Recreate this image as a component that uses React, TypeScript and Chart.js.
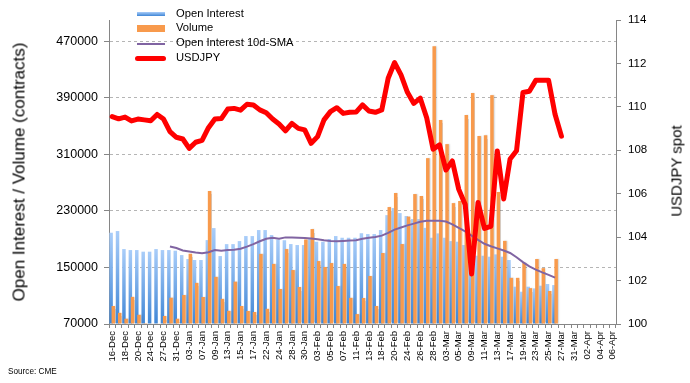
import React, { useEffect, useRef } from 'react';
import { Chart, registerables } from 'chart.js';

Chart.register(...registerables);

const DATES = [
  '16-Dec','17-Dec','18-Dec','19-Dec','20-Dec','23-Dec','24-Dec','26-Dec','27-Dec','30-Dec','31-Dec',
  '02-Jan','03-Jan','06-Jan','07-Jan','08-Jan','09-Jan','10-Jan','13-Jan','14-Jan','15-Jan','16-Jan','17-Jan',
  '21-Jan','22-Jan','23-Jan','24-Jan','27-Jan','28-Jan','29-Jan','30-Jan','31-Jan',
  '03-Feb','04-Feb','05-Feb','06-Feb','07-Feb','10-Feb','11-Feb','12-Feb','13-Feb','14-Feb',
  '18-Feb','19-Feb','20-Feb','21-Feb','24-Feb','25-Feb','26-Feb','27-Feb','28-Feb',
  '02-Mar','03-Mar','04-Mar','05-Mar','06-Mar','09-Mar','10-Mar','11-Mar','12-Mar','13-Mar',
  '16-Mar','17-Mar','18-Mar','19-Mar','20-Mar','23-Mar','24-Mar','25-Mar','26-Mar','27-Mar',
  '30-Mar','31-Mar','01-Apr','02-Apr','03-Apr','04-Apr','05-Apr','06-Apr',
];

const OPEN_INTEREST = [
  199100, 201500, 176000, 174600, 174600, 172300, 172300, 176000, 174600, 174600,
  173700, 167500, 161900, 160500, 160500, 188700, 205700, 166100, 183000, 183000,
  187300, 194400, 194400, 202900, 202900, 195800, 189500, 188500, 183100, 181700,
  181700, 190600, 186400, 186400, 190200, 194400, 192000, 192000, 192000, 198400,
  197200, 197200, 202900, 224000, 234000, 226900, 222700, 218400, 218400, 206000,
  192000, 198200, 192000, 187300, 186400, 181700, 158000, 166600, 166600, 165200,
  168500, 165200, 160500, 122800, 115700, 122800, 120400, 124200, 126600, 125100,
];

const VOLUME = [
  95500, 85800, 77500, 108400, 83000, 71200, 70600, 70600, 81300, 107200,
  77500, 111000, 169400, 128200, 108200, 258200, 136700, 105600, 88600, 129900,
  95500, 88400, 87000, 169200, 91500, 155000, 119500, 176000, 146300, 122300,
  189500, 204300, 159000, 150600, 156200, 123700, 155000, 107000, 84000, 106800,
  137900, 95500, 170400, 235400, 255200, 183100, 222000, 253800, 251200, 304600,
  463000, 358600, 324400, 241000, 244000, 365600, 396700, 335900, 337100, 393700,
  256800, 187600, 135300, 135300, 156500, 120700, 161900, 149000, 116700, 161900,
];

const OI_SMA_10D = [
  null, null, null, null, null, null, null, null, null,
  179500, 177500, 174000, 172500, 171000, 170000, 171500, 174500, 173500, 174500,
  175000, 176500, 179500, 183000, 187000, 190500, 192000, 190500, 192500, 192500,
  192000, 191500, 191000, 190000, 188500, 187500, 187000, 187500, 188000, 188500,
  190500, 192000, 193000, 195000, 199000, 203500, 206500, 209500, 212000, 214500,
  216000, 216000, 216000, 215000, 211000, 206000, 201000, 195000, 189000, 183500,
  180000, 177000, 174000, 170500, 164500, 157500, 151500, 147000, 143000, 139500,
  135500,
];

const USDJPY = [
  109.55, 109.45, 109.53, 109.35, 109.44, 109.40, 109.36, 109.65, 109.44, 108.86,
  108.60, 108.52, 108.09, 108.37, 108.46, 109.04, 109.44, 109.46, 109.90, 109.93,
  109.85, 110.12, 110.09, 109.86, 109.73, 109.44, 109.21, 108.90, 109.24, 109.01,
  108.94, 108.32, 108.63, 109.40, 109.78, 109.96, 109.70, 109.75, 109.76, 110.09,
  109.81, 109.75, 109.86, 111.32, 112.04, 111.47, 110.67, 110.16, 110.40, 109.50,
  108.05, 108.25, 107.09, 107.51, 106.20, 105.50, 102.30, 105.60, 104.40, 104.50,
  107.97, 105.76, 107.60, 107.98, 110.66, 110.72, 111.22, 111.22, 111.22, 109.66,
  108.65,
];

const LEFT_TICKS = [70000, 150000, 230000, 310000, 390000, 470000];
const LEFT_MIN = 70000;
const LEFT_MAX = 500000;
const RIGHT_MIN = 100;
const RIGHT_MAX = 114;
const RIGHT_STEP = 2;

const FONT = "'Liberation Sans', Arial, Helvetica, sans-serif";
const BLUE_TOP = '#a9cdf9';
const BLUE_BOTTOM = '#3f86d6';
const ORANGE = '#f89a4c';
const PURPLE = '#8064a2';
const RED = '#ff0000';
const AXIS_GRAY = '#868686';

export default function App() {
  const canvasRef = useRef<HTMLCanvasElement | null>(null);

  useEffect(() => {
    const canvas = canvasRef.current;
    if (!canvas) return;

    const blueFill = (c: any) => {
      const chart = c.chart;
      const area = chart.chartArea;
      if (!area || c.type !== 'data' || c.raw == null) return BLUE_BOTTOM;
      const yTop = chart.scales.y.getPixelForValue(c.raw);
      const g = chart.ctx.createLinearGradient(0, yTop, 0, area.bottom);
      g.addColorStop(0, BLUE_TOP);
      g.addColorStop(1, BLUE_BOTTOM);
      return g;
    };

    const layering = {
      id: 'layering',
      beforeDatasetsDraw(chart: any) {
        const meta = chart.getDatasetMeta(0);
        const area = chart.chartArea;
        if (meta && !meta.hidden) {
          const ctx = chart.ctx;
          ctx.save();
          ctx.beginPath();
          ctx.rect(area.left, area.top, area.right - area.left, area.bottom - area.top);
          ctx.clip();
          meta.controller.draw();
          ctx.restore();
        }
      },
      beforeDatasetDraw(chart: any, args: any) {
        if (args.index === 0) return false;
        if (args.index === 1) {
          const ctx = chart.ctx;
          ctx.save();
          ctx.shadowColor = 'rgba(0,0,0,0.18)';
          ctx.shadowBlur = 1.5;
          ctx.shadowOffsetX = 1;
          ctx.shadowOffsetY = 0;
        }
        return true;
      },
      afterDatasetDraw(chart: any, args: any) {
        if (args.index === 1) chart.ctx.restore();
      },
    };

    const chart = new Chart(canvas, {
      type: 'bar',
      data: {
        labels: DATES,
        datasets: [
          {
            type: 'bar',
            label: 'Open Interest',
            data: OPEN_INTEREST,
            backgroundColor: blueFill,
            yAxisID: 'y',
            order: 2,
            base: LEFT_MIN,
            categoryPercentage: 0.686,
            barPercentage: 1.59,
          },
          {
            type: 'bar',
            label: 'Volume',
            data: VOLUME,
            backgroundColor: ORANGE,
            yAxisID: 'y',
            order: 2,
            base: LEFT_MIN,
            categoryPercentage: 0.686,
            barPercentage: 1.59,
          },
          {
            type: 'line',
            label: 'Open Interest 10d-SMA',
            data: OI_SMA_10D,
            borderColor: PURPLE,
            borderWidth: 2,
            pointRadius: 0,
            tension: 0,
            yAxisID: 'y',
            order: 1,
          },
          {
            type: 'line',
            label: 'USDJPY',
            data: USDJPY,
            borderColor: RED,
            borderWidth: 5,
            pointRadius: 0,
            tension: 0,
            borderJoinStyle: 'round',
            borderCapStyle: 'round',
            yAxisID: 'y2',
            order: 0,
          },
        ] as any,
      },
      options: {
        responsive: false,
        animation: false,
        devicePixelRatio: 1,
        layout: { padding: { top: 20, left: 0, right: 0, bottom: 0 } },
        plugins: { legend: { display: false }, tooltip: { enabled: false } },
        scales: {
          x: {
            type: 'category',
            offset: true,
            grid: {
              display: true,
              drawOnChartArea: false,
              drawTicks: true,
              tickLength: 4,
              offset: true,
              color: AXIS_GRAY,
              tickColor: AXIS_GRAY,
            },
            border: { display: true, color: AXIS_GRAY, width: 1 },
            ticks: {
              autoSkip: false,
              maxRotation: 90,
              minRotation: 90,
              padding: 3,
              color: '#000',
              font: { family: FONT, size: 9.5 },
              callback: (_v: any, i: number) => (i % 2 === 0 ? DATES[i] : ''),
            },
            afterFit: (s: any) => { s.height = 59; },
          },
          y: {
            type: 'linear',
            position: 'left',
            min: LEFT_MIN,
            max: LEFT_MAX,
            afterBuildTicks: (s: any) => { s.ticks = LEFT_TICKS.map((v) => ({ value: v })); },
            grid: {
              color: (c: any) => (c.tick && c.tick.value === LEFT_MIN ? 'rgba(0,0,0,0)' : '#b5b5b5'),
              lineWidth: 1,
              drawTicks: true,
              tickLength: 5,
              tickColor: AXIS_GRAY,
              tickBorderDash: [],
            },
            border: { display: true, color: AXIS_GRAY, width: 1, dash: [3, 3] },
            ticks: {
              padding: 6,
              color: '#000',
              font: { family: FONT, size: 12.5 },
              callback: (v: any) => String(v),
            },
            afterFit: (s: any) => { s.width = 109; },
          },
          y2: {
            type: 'linear',
            position: 'right',
            min: RIGHT_MIN,
            max: RIGHT_MAX,
            grid: {
              drawOnChartArea: false,
              drawTicks: true,
              tickLength: 5,
              tickColor: AXIS_GRAY,
              color: AXIS_GRAY,
            },
            border: { display: true, color: AXIS_GRAY, width: 1 },
            ticks: {
              stepSize: RIGHT_STEP,
              padding: 7,
              color: '#000',
              font: { family: FONT, size: 11.5 },
              callback: (v: any) => String(v),
            },
            afterFit: (s: any) => { s.width = 74; },
          },
        },
      } as any,
      plugins: [layering],
    });

    return () => chart.destroy();
  }, []);

  const legendText: React.CSSProperties = {
    position: 'absolute',
    left: 176,
    fontSize: 11.2,
    lineHeight: '11.2px',
    whiteSpace: 'nowrap',
    color: '#000',
  };

  return (
    <div
      style={{
        position: 'absolute',
        left: 0,
        top: 0,
        width: 690,
        height: 383,
        background: '#fff',
        fontFamily: FONT,
        overflow: 'hidden',
      }}
    >
      <canvas
        ref={canvasRef}
        width={690}
        height={383}
        style={{ position: 'absolute', left: 0, top: 0, width: 690, height: 383 }}
      />
      <div
        style={{
          position: 'absolute',
          left: 18.5,
          top: 172,
          transform: 'translate(-50%, -50%) rotate(-90deg)',
          whiteSpace: 'nowrap',
          fontSize: 17,
          lineHeight: '17px',
          color: '#000',
        }}
      >
        Open Interest / Volume (contracts)
      </div>
      <div
        style={{
          position: 'absolute',
          left: 675.5,
          top: 171,
          transform: 'translate(-50%, -50%) rotate(-90deg)',
          whiteSpace: 'nowrap',
          fontSize: 15,
          lineHeight: '15px',
          color: '#000',
        }}
      >
        USDJPY spot
      </div>

      <div style={{ position: 'absolute', left: 137, top: 11.7, width: 27.5, height: 4, background: `linear-gradient(${BLUE_TOP}, ${BLUE_BOTTOM})` }} />
      <div style={{ ...legendText, top: 7.8 }}>Open Interest</div>
      <div style={{ position: 'absolute', left: 137, top: 25, width: 27.5, height: 7, background: ORANGE }} />
      <div style={{ ...legendText, top: 22.2 }}>Volume</div>
      <div style={{ position: 'absolute', left: 137, top: 42.7, width: 27.5, height: 2, background: PURPLE }} />
      <div style={{ ...legendText, top: 37.2 }}>Open Interest 10d-SMA</div>
      <div style={{ position: 'absolute', left: 135, top: 56, width: 31, height: 5, borderRadius: 2.5, background: RED }} />
      <div style={{ ...legendText, top: 52.2 }}>USDJPY</div>

      <div
        style={{
          position: 'absolute',
          left: 8,
          top: 368,
          fontSize: 8.2,
          lineHeight: '8.2px',
          whiteSpace: 'nowrap',
          color: '#000',
        }}
      >
        Source: CME
      </div>
    </div>
  );
}
